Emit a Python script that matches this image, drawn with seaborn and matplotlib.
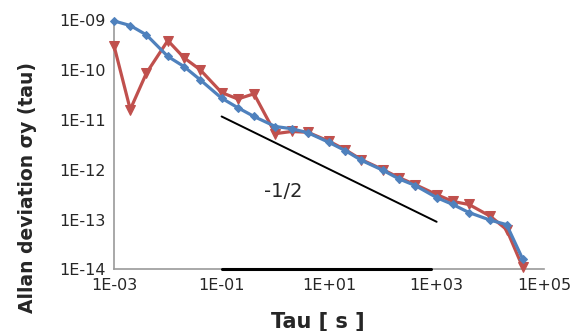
import numpy as np
import pandas as pd
import matplotlib
matplotlib.use("Agg")
import matplotlib.pyplot as plt
import seaborn as sns

# tau values (s): 1, 2, 4 per decade
tau = [1e-3, 2e-3, 4e-3, 1e-2, 2e-2, 4e-2, 1e-1, 2e-1, 4e-1, 1e0, 2e0, 4e0,
       1e1, 2e1, 4e1, 1e2, 2e2, 4e2, 1e3, 2e3, 4e3, 1e4, 2e4, 4e4]

blue_adev = [9.5e-10, 7.7e-10, 5.0e-10, 1.85e-10, 1.16e-10, 6.3e-11, 2.7e-11, 1.74e-11,
             1.16e-11, 7.3e-12, 6.6e-12, 5.5e-12, 3.5e-12, 2.4e-12, 1.53e-12, 9.7e-13,
             6.5e-13, 4.8e-13, 2.75e-13, 2.0e-13, 1.38e-13, 9.7e-14, 7.9e-14, 1.6e-14]

red_adev = [3.0e-10, 1.6e-11, 8.6e-11, 3.85e-10, 1.74e-10, 1.0e-10, 3.5e-11, 2.6e-11,
            3.3e-11, 5.25e-12, 5.8e-12, 5.6e-12, 3.7e-12, 2.5e-12, 1.58e-12, 1.0e-12,
            6.9e-13, 5.0e-13, 3.16e-13, 2.3e-13, 2.0e-13, 1.16e-13, 6.3e-14, 1.1e-14]

# reference lines
slope_tau = [1e-1, 1e3]
slope_adev = [1.16e-11, 9.0e-14]
base_tau = [1e-1, 8e2]
base_adev = [1e-14, 1e-14]

xticks = [1e-3, 1e-1, 1e1, 1e3, 1e5]
xtick_labels = ["1E-03", "1E-01", "1E+01", "1E+03", "1E+05"]
yticks = [1e-14, 1e-13, 1e-12, 1e-11, 1e-10, 1e-9]
ytick_labels = ["1E-14", "1E-13", "1E-12", "1E-11", "1E-10", "1E-09"]

sns.set_style("white")

df_red = pd.DataFrame({"tau": tau, "adev": red_adev})
df_blue = pd.DataFrame({"tau": tau, "adev": blue_adev})

fig = plt.figure(figsize=(5.82, 3.31), dpi=100)
ax = fig.add_axes([0.196, 0.186, 0.739, 0.754])
ax.set_xscale("log")
ax.set_yscale("log")

sns.lineplot(data=df_red, x="tau", y="adev", ax=ax, color="#C0504D", linewidth=2.3,
             marker="v", markersize=7, markeredgecolor="#C0504D", clip_on=False, zorder=3)
sns.lineplot(data=df_blue, x="tau", y="adev", ax=ax, color="#4F81BD", linewidth=2.3,
             marker="D", markersize=4, markeredgecolor="#4F81BD", clip_on=False, zorder=4)

ax.plot(slope_tau, slope_adev, color="black", linewidth=1.4, zorder=2)
ax.plot(base_tau, base_adev, color="black", linewidth=2.2, zorder=5, clip_on=False)
ax.text(1.39, 3.6e-13, "-1/2", fontsize=14, ha="center", va="center")

ax.set_xlim(1e-3, 1e5)
ax.set_ylim(1e-14, 1e-9)
ax.set_xticks(xticks)
ax.set_xticklabels(xtick_labels, fontsize=11.5)
ax.set_yticks(yticks)
ax.set_yticklabels(ytick_labels, fontsize=11.5)
ax.minorticks_off()
ax.tick_params(length=0, pad=6)

for s in ["top", "right"]:
    ax.spines[s].set_visible(False)
for s in ["left", "bottom"]:
    ax.spines[s].set_color("#9a9a9a")
    ax.spines[s].set_linewidth(1.2)

ax.set_xlabel("Tau [ s ]", fontsize=15, fontweight="bold")
ax.set_ylabel("Allan deviation σy (tau)", fontsize=13.5, fontweight="bold")
ax.xaxis.set_label_coords(0.473, -0.168)
ax.yaxis.set_label_coords(-0.179, 0.327)

fig.savefig("out.png", dpi=100)
